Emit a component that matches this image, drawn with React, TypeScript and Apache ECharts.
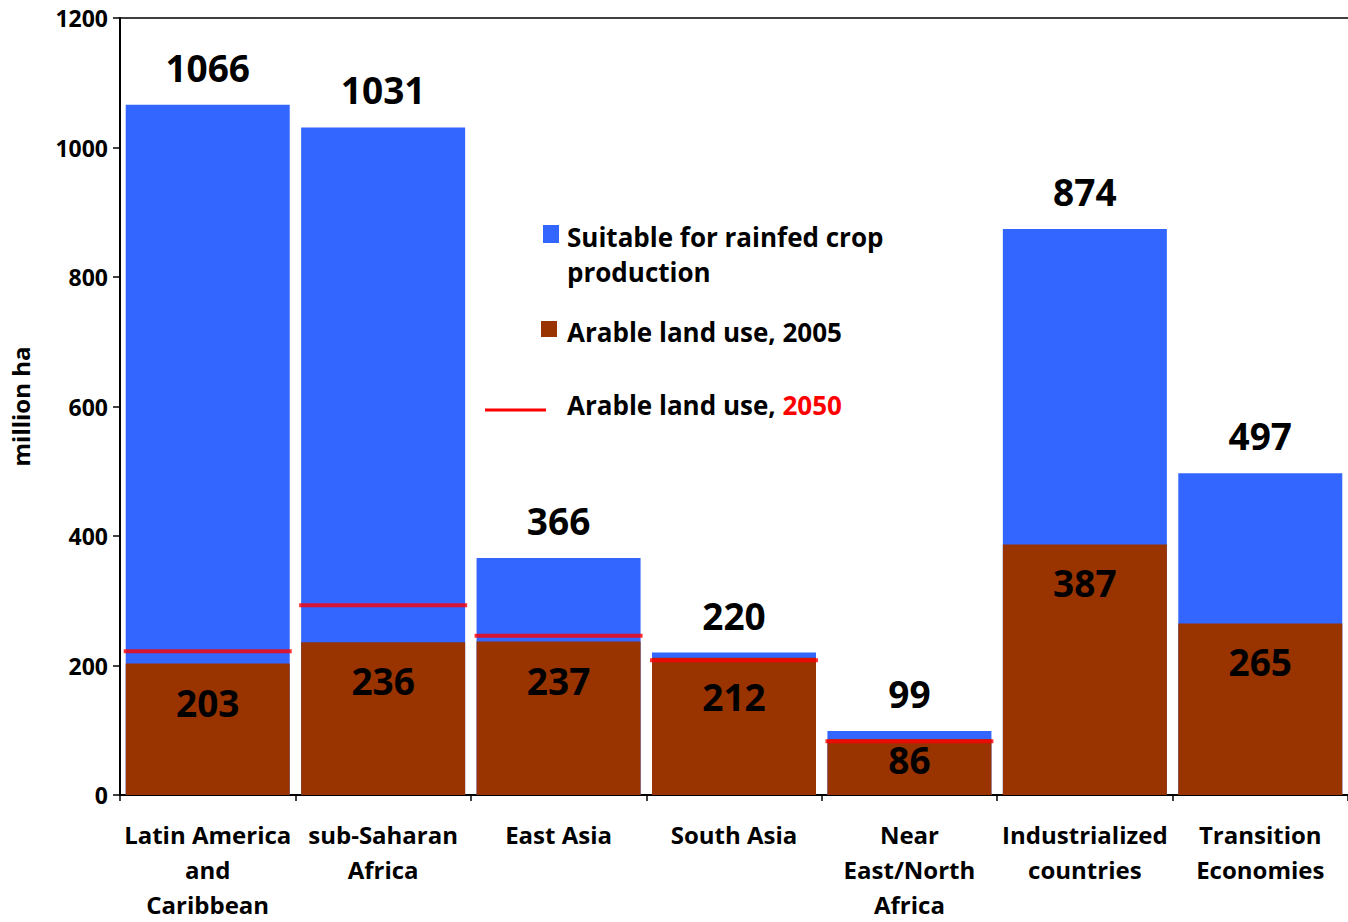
import React, { useEffect, useRef } from "react";
import * as echarts from "echarts";

const categories = [
  "Latin America\nand\nCaribbean",
  "sub-Saharan\nAfrica",
  "East Asia",
  "South Asia",
  "Near\nEast/North\nAfrica",
  "Industrialized\ncountries",
  "Transition\nEconomies",
];
const suitable = [1066, 1031, 366, 220, 99, 874, 497];
const arable2005 = [203, 236, 237, 212, 86, 387, 265];
const arable2050 = [222, 293, 246, 208, 83, null, null];
const yTicks = { min: 0, max: 1200, interval: 200 };

const FONT = "'Open Sans', sans-serif";

export default function App() {
  const ref = useRef<HTMLDivElement>(null);
  useEffect(() => {
    if (!ref.current) return;
    const chart = echarts.init(ref.current, undefined, { renderer: "svg" });
    // short bars get their label nearer the top so it stays inside
    const arableData = arable2005.map((v) =>
      v < 150 ? { value: v, label: { distance: 2 } } : v
    );
    chart.setOption({
      animation: false,
      textStyle: { fontFamily: FONT },
      grid: { left: 118, right: 0, top: 18, bottom: 125 },
      xAxis: [
        {
          type: "category",
          data: categories,
          axisLine: { lineStyle: { color: "#000", width: 2 } },
          axisTick: { show: true, length: 6, lineStyle: { color: "#000", width: 1.5 } },
          axisLabel: {
            color: "#000",
            fontWeight: "bold",
            fontSize: 24,
            fontFamily: FONT,
            lineHeight: 35,
            margin: 22,
            interval: 0,
          },
        },
        {
          type: "category",
          position: "top",
          data: categories,
          axisLine: { show: true, lineStyle: { color: "#000", width: 1.5 } },
          axisTick: { show: false },
          axisLabel: { show: false },
        },
      ],
      yAxis: {
        type: "value",
        min: yTicks.min,
        max: yTicks.max,
        interval: yTicks.interval,
        name: "million ha",
        nameLocation: "middle",
        nameGap: 88,
        nameTextStyle: { color: "#000", fontWeight: "bold", fontSize: 24, fontFamily: FONT },
        axisLine: { show: true, lineStyle: { color: "#000", width: 2 } },
        axisTick: { show: true, length: 7, lineStyle: { color: "#000", width: 1.5 } },
        splitLine: { show: false },
        axisLabel: {
          color: "#000",
          fontWeight: "bold",
          fontSize: 23,
          fontFamily: FONT,
          margin: 12,
          formatter: (v: number) => String(v),
        },
      },
      series: [
        {
          name: "Suitable for rainfed crop production",
          type: "bar",
          data: suitable,
          barWidth: 164,
          barGap: "-100%",
          itemStyle: { color: "#3366FF" },
          label: {
            show: true,
            position: "top",
            distance: 19,
            color: "#000",
            fontWeight: "bold",
            fontSize: 37,
            fontFamily: FONT,
          },
          z: 1,
        },
        {
          name: "Arable land use, 2005",
          type: "bar",
          data: arableData,
          barWidth: 164,
          barGap: "-100%",
          itemStyle: { color: "#993300" },
          label: {
            show: true,
            position: "insideTop",
            distance: 20,
            color: "#000",
            fontWeight: "bold",
            fontSize: 37,
            fontFamily: FONT,
          },
          z: 2,
        },
        {
          name: "Arable land use, 2050",
          type: "scatter",
          data: arable2050,
          symbol: "rect",
          symbolSize: [168, 4],
          itemStyle: { color: "#FF0000" },
          z: 5,
        },
      ],
      graphic: [
        { type: "rect", shape: { x: 543, y: 225, width: 16, height: 18 }, style: { fill: "#3366FF" } },
        {
          type: "text",
          x: 567,
          y: 219,
          style: {
            text: "Suitable for rainfed crop\nproduction",
            font: `bold 26px ${FONT}`,
            fill: "#000",
            lineHeight: 35,
          },
        },
        { type: "rect", shape: { x: 541, y: 321, width: 16, height: 16 }, style: { fill: "#993300" } },
        {
          type: "text",
          x: 567,
          y: 319,
          style: {
            text: "Arable land use, 2005",
            font: `bold 26px ${FONT}`,
            fill: "#000",
          },
        },
        {
          type: "line",
          shape: { x1: 485, y1: 410, x2: 546, y2: 410 },
          style: { stroke: "#FF0000", lineWidth: 3 },
        },
        {
          type: "text",
          x: 567,
          y: 392,
          style: {
            text: "{a|Arable land use, }{b|2050}",
            rich: {
              a: { font: `bold 26px ${FONT}`, fill: "#000" },
              b: { font: `bold 26px ${FONT}`, fill: "#FF0000" },
            },
          },
        },
      ],
    });
    return () => chart.dispose();
  }, []);
  return <div ref={ref} style={{ width: 1348, height: 922, position: "absolute", left: 0, top: 0 }} />;
}
